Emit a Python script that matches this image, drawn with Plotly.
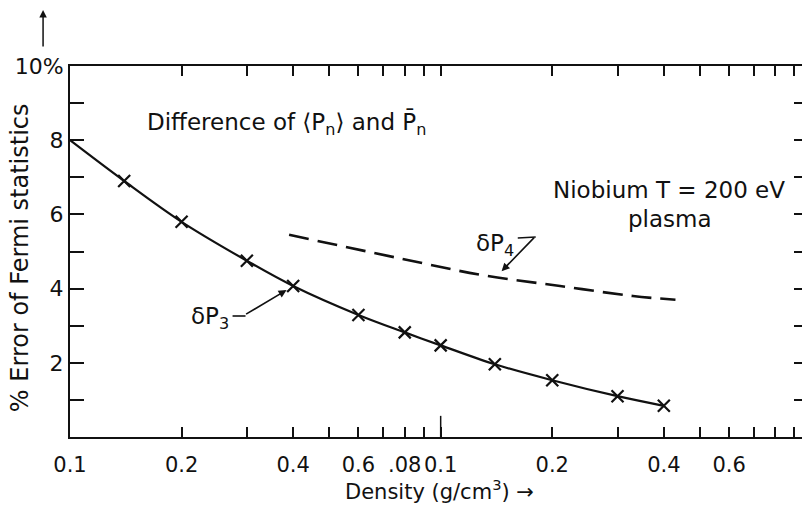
import math
import plotly.graph_objects as go

# ---- data ----
dp3_density = [0.01, 0.014, 0.02, 0.03, 0.04, 0.06, 0.08, 0.1, 0.14, 0.2, 0.3, 0.4]
dp3_error = [8.0, 6.9, 5.8, 4.75, 4.07, 3.29, 2.82, 2.47, 1.96, 1.53, 1.10, 0.84]
dp3_marker_density = dp3_density[1:]
dp3_marker_error = dp3_error[1:]

dp4_density = [0.039, 0.078, 0.13, 0.21, 0.33, 0.43]
dp4_error = [5.45, 4.81, 4.36, 4.07, 3.80, 3.70]

x_tickvals = [0.01, 0.02, 0.03, 0.04, 0.05, 0.06, 0.07, 0.08, 0.09,
              0.1, 0.2, 0.3, 0.4, 0.5, 0.6, 0.7, 0.8, 0.9]
x_ticktext = ["0.1", "0.2", "", "0.4", "", "0.6", "", ".08", "",
              "0.1", "0.2", "", "0.4", "", "0.6", "", "", ""]
y_tickvals = [1, 2, 3, 4, 5, 6, 7, 8, 9, 10]
y_ticktext = ["", "2", "", "4", "", "6", "", "8", "", "10%"]

FONT = "DejaVu Sans"
INK = "#111111"

fig = go.Figure()
fig.add_trace(go.Scatter(x=dp3_density, y=dp3_error, mode="lines",
                         line=dict(color=INK, width=2.2, shape="spline"),
                         showlegend=False, hoverinfo="skip"))
fig.add_trace(go.Scatter(x=dp3_marker_density, y=dp3_marker_error, mode="markers",
                         marker=dict(symbol="x-thin-open", size=12, color=INK,
                                     line=dict(color=INK, width=2.2)),
                         showlegend=False))
fig.add_trace(go.Scatter(x=dp4_density, y=dp4_error, mode="lines",
                         line=dict(color=INK, width=2.6, dash="20px,9px", shape="spline"),
                         showlegend=False))

# the page adds an 8px body margin, so the figure is 8px smaller and shifted
fig.update_layout(
    width=802, height=498,
    margin=dict(l=62, r=0, t=58, b=69),
    paper_bgcolor="white", plot_bgcolor="white",
    font=dict(family=FONT, size=21, color=INK),
    xaxis=dict(type="log", range=[-2, -0.009],
               tickmode="array", tickvals=x_tickvals, ticktext=x_ticktext,
               ticks="inside", ticklen=10, tickwidth=1.5, tickcolor=INK,
               showline=True, linecolor=INK, linewidth=2, mirror="ticks",
               showgrid=False, zeroline=False, ticklabelstandoff=8,
               tickfont=dict(size=21)),
    yaxis=dict(range=[0, 10],
               tickmode="array", tickvals=y_tickvals, ticktext=y_ticktext,
               ticks="inside", ticklen=14, tickwidth=1.5, tickcolor=INK,
               showline=True, linecolor=INK, linewidth=2, mirror="ticks",
               showgrid=False, zeroline=False,
               tickfont=dict(size=22)),
)

# tall tick at 0.1
fig.add_shape(type="line", xref="x", yref="paper", x0=0.1, x1=0.1, y0=0, y1=0.057,
              line=dict(color=INK, width=1.5))

def px_x(p):
    return (p - 70) / 740.0

def px_y(p):
    return (437 - p) / 371.0

annots = [
    dict(text="Difference of \u27e8P<sub>n</sub>\u27e9 and P\u0304<sub>n</sub>", x=px_x(287), y=px_y(123)),
    dict(text="Niobium T = 200 eV", x=px_x(671), y=px_y(190)),
    dict(text="plasma", x=px_x(672), y=px_y(219)),
    dict(text="\u03b4P<sub>3</sub>", x=px_x(210), y=px_y(318)),
    dict(text="\u03b4P<sub>4</sub>", x=px_x(496), y=px_y(245)),
    dict(text="Density (g/cm<sup>3</sup>) \u2192", x=px_x(440), y=px_y(490), size=21),
]
for a in annots:
    fig.add_annotation(xref="paper", yref="paper", x=a["x"], y=a["y"], text=a["text"],
                       showarrow=False, xanchor="center", yanchor="middle",
                       font=dict(family=FONT, size=a.get("size", 23), color=INK))

fig.add_annotation(xref="paper", yref="paper", x=px_x(20), y=px_y(258),
                   text="% Error of Fermi statistics", textangle=-90, showarrow=False,
                   xanchor="center", yanchor="middle",
                   font=dict(family=FONT, size=24, color=INK))

# vertical arrow at top left
fig.add_annotation(xref="paper", yref="paper", x=px_x(43), y=px_y(10), text="",
                   showarrow=True, ax=0, ay=38, arrowhead=2, arrowsize=1,
                   arrowwidth=1.5, arrowcolor=INK)

# pointer arrows (log axis: annotation x given in log10 units)
fig.add_annotation(xref="x", yref="y", x=math.log10(0.0384), y=3.96, text="",
                   showarrow=True, ax=-42, ay=25, arrowhead=2, arrowsize=1,
                   arrowwidth=1.6, arrowcolor=INK)
fig.add_shape(type="line", xref="paper", yref="paper",
              x0=px_x(233), x1=px_x(246), y0=px_y(316), y1=px_y(316),
              line=dict(color=INK, width=1.6))
fig.add_annotation(xref="x", yref="y", x=math.log10(0.146), y=4.47, text="",
                   showarrow=True, ax=34, ay=-35, arrowhead=2, arrowsize=1,
                   arrowwidth=1.6, arrowcolor=INK)
fig.add_shape(type="line", xref="paper", yref="paper",
              x0=px_x(519), x1=px_x(537), y0=px_y(238), y1=px_y(237),
              line=dict(color=INK, width=1.6))

fig.write_html("out.html")
